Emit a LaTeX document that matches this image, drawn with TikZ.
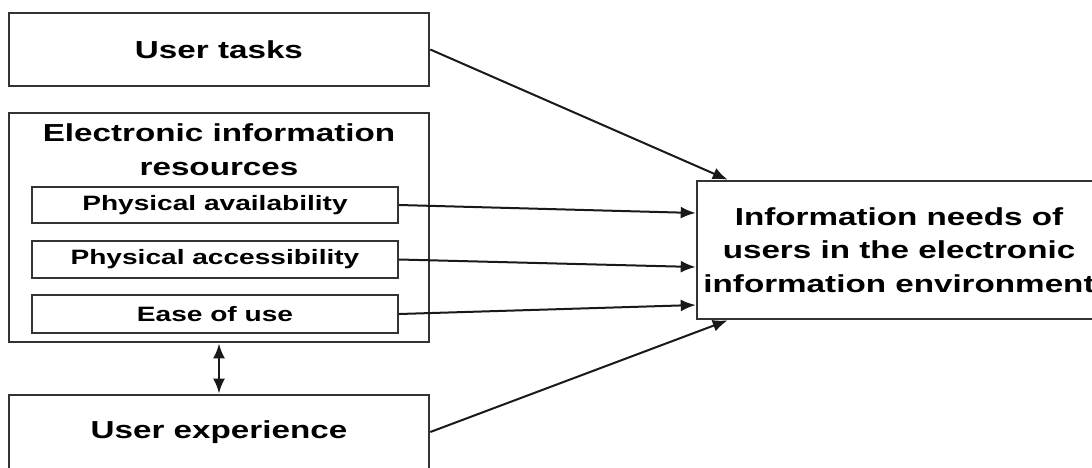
\documentclass[tikz,border=0pt]{standalone}
\usepackage{fontspec}
\setmainfont{Liberation Sans}[FakeStretch=1.35]
\usetikzlibrary{arrows.meta}

\tikzstyle{blk}=[draw=black!80, line width=1.3pt, minimum width=210pt, font=\bfseries\fontsize{12.3}{16.7}\selectfont, align=center, inner sep=0pt]
\tikzstyle{sub}=[draw=black!80, line width=1pt, minimum width=183pt, font=\bfseries\fontsize{10.4}{12}\selectfont, inner sep=0pt]
\tikzstyle{aedge}=[draw=black!90, line width=1pt, -{Latex[length=7.5pt,width=6pt]}]

\begin{document}
\begin{tikzpicture}[x=0.5pt,y=-0.5pt]
        \useasboundingbox (0,0) rectangle (1092,467);
        \draw (219,49.5) node[blk, minimum height=36.5pt](tasks){User tasks};
        \draw (219,227.5) node[blk, minimum height=114.5pt](eir){};
        \draw (219,150) node[font=\bfseries\fontsize{12.3}{16.9}\selectfont, align=center, inner sep=0pt](eirtitle){Electronic information\\resources};
        \draw (215,205) node[sub, minimum height=18pt](avail){Physical availability};
        \draw (215,259.5) node[sub, minimum height=18.5pt](access){Physical accessibility};
        \draw (215,314) node[sub, minimum height=19pt](ease){Ease of use};
        \draw (219,432) node[blk, minimum height=37pt](exper){User experience};
        \draw (899,250) node[blk, minimum width=202pt, minimum height=69pt](needs){Information needs of\\users in the electronic\\information environment};
        %
        \path
            (tasks.east)    edge[aedge]    ([xshift=16pt]needs.north west)
            (avail.east)    edge[aedge]    ([yshift=18.5pt]needs.west)
            (access.east)   edge[aedge]    ([yshift=-8.5pt]needs.west)
            (ease.east)     edge[aedge]    ([yshift=-27.5pt]needs.west)
            (exper.east)    edge[aedge]    ([xshift=16pt]needs.south west)
            (eir.south)     edge[aedge, line width=1.4pt, {Latex[length=7.5pt,width=6pt]}-{Latex[length=7.5pt,width=6pt]}]    (exper.north)
        ;
        %
\end{tikzpicture}
\end{document}
